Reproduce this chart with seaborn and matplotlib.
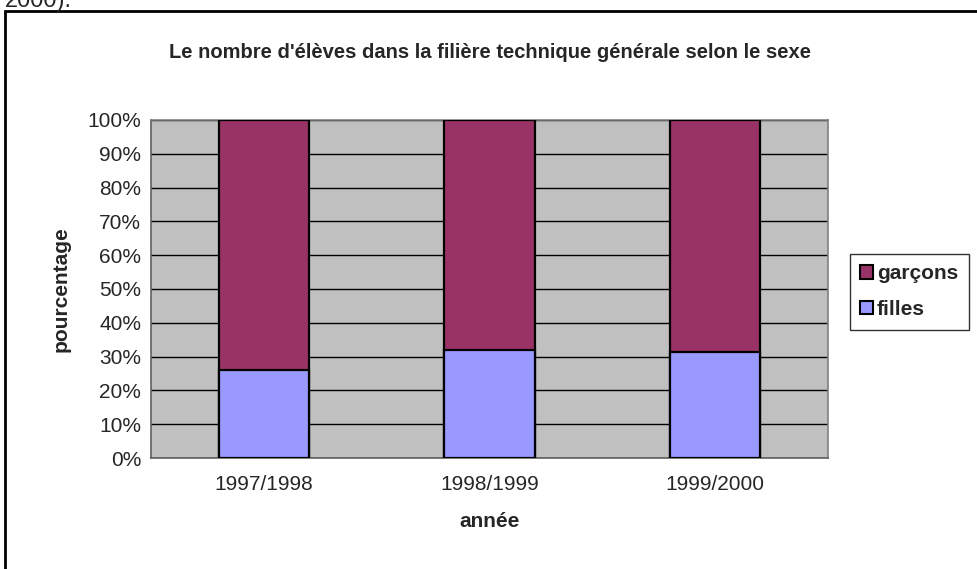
import seaborn as sns
import pandas as pd
import numpy as np
import matplotlib.pyplot as plt
from matplotlib.patches import Rectangle, Patch
from matplotlib.ticker import PercentFormatter

annees = ['1997/1998', '1998/1999', '1999/2000']
filles = [26.0, 32.0, 31.5]
garcons = [74.0, 68.0, 68.5]

sns.set_style('white')
plt.rcParams['font.family'] = ['Liberation Sans', 'DejaVu Sans']

df = pd.DataFrame({'annee': annees, 'filles': filles, 'garcons': garcons})
df['total'] = df['filles'] + df['garcons']

fig = plt.figure(figsize=(9.77, 5.69), dpi=100)
ax = fig.add_axes([151 / 977, 1 - 458 / 569, 677 / 977, 338 / 569])
ax.set_facecolor('#C0C0C0')

col_g = '#993366'
col_f = '#9999FF'

sns.barplot(data=df, x='annee', y='total', color=col_g, width=0.4,
            edgecolor='black', linewidth=1.6, saturation=1, ax=ax, zorder=3)
sns.barplot(data=df, x='annee', y='filles', color=col_f, width=0.4,
            edgecolor='black', linewidth=1.6, saturation=1, ax=ax, zorder=4)

ax.set_ylim(0, 100)
ax.set_xlim(-0.5, 2.5)
ax.set_yticks(np.arange(0, 101, 10))
ax.yaxis.set_major_formatter(PercentFormatter(decimals=0))
ax.yaxis.grid(True, color='black', linewidth=1)
ax.set_axisbelow(True)

# category tick marks between groups, like the original
ax.set_xticks([0, 1, 2])
ax.set_xticks([-0.5, 0.5, 1.5, 2.5], minor=True)
ax.tick_params(axis='x', which='major', length=0, pad=12, labelsize=15)
ax.tick_params(axis='x', which='minor', length=4, width=1, color='#606060', direction='out')
ax.tick_params(axis='y', length=4, width=1, color='#606060', direction='out', labelsize=15, pad=3)

for s in ax.spines.values():
    s.set_visible(True)
    s.set_color('#808080')
    s.set_linewidth(1.2)
ax.spines['left'].set_color('#606060')
ax.spines['bottom'].set_color('#606060')

ax.set_xlabel('année', fontsize=15, fontweight='bold', labelpad=13)
ax.set_ylabel('pourcentage', fontsize=15, fontweight='bold', labelpad=12)

fig.text(490 / 977, 1 - 53 / 569, "Le nombre d'élèves dans la filière technique générale selon le sexe",
         ha='center', va='center', fontsize=14.5, fontweight='bold')

handles = [Patch(facecolor=col_g, edgecolor='black', linewidth=1.5, label='garçons'),
           Patch(facecolor=col_f, edgecolor='black', linewidth=1.5, label='filles')]
leg = fig.legend(handles=handles, loc='upper left', bbox_to_anchor=(850 / 977, 1 - 254 / 569),
                 frameon=True, fancybox=False, fontsize=15, handlelength=0.6, handleheight=0.6,
                 handletextpad=0.2, borderpad=0.5, labelspacing=0.8, borderaxespad=0)
leg.get_frame().set_edgecolor('black')
leg.get_frame().set_linewidth(1)
for t in leg.get_texts():
    t.set_fontweight('bold')

# outer chart frame, cut off at right and bottom
fig.add_artist(Rectangle((5 / 977, -0.1), 1.2, 1 - 11 / 569 + 0.1, transform=fig.transFigure,
                         fill=False, edgecolor='black', linewidth=2))
fig.text(5 / 977, 1 - 7 / 569, '2000).', ha='left', va='baseline', fontsize=17)

fig.savefig('out.png', dpi=100)
